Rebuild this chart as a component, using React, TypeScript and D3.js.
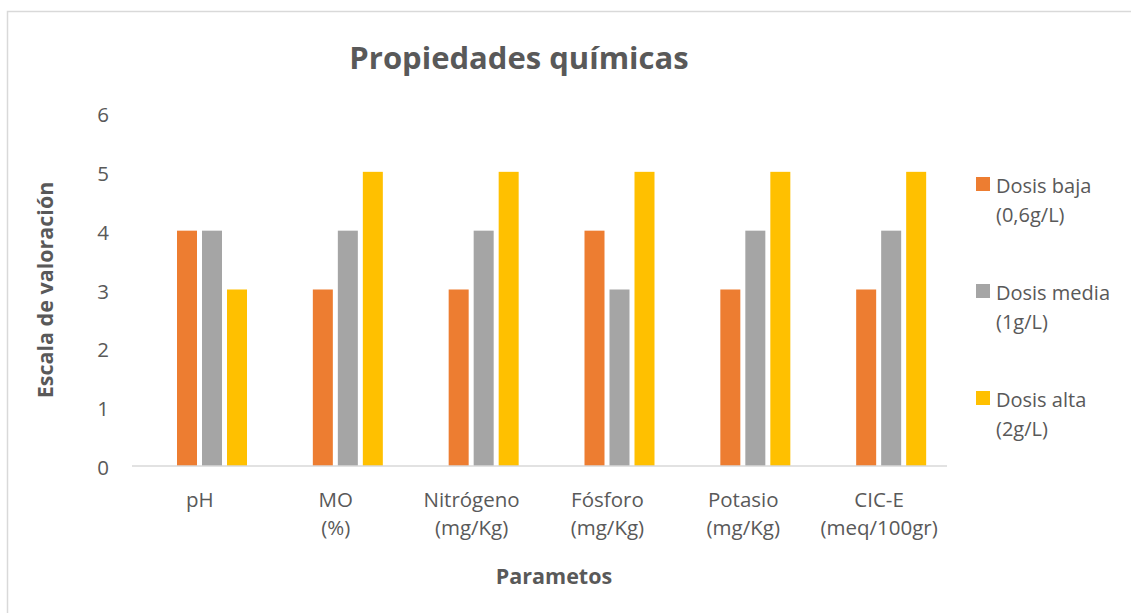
import React, { useEffect, useRef } from 'react';
import * as d3 from 'd3';

const categories = [
  ['pH'],
  ['MO', '(%)'],
  ['Nitrógeno', '(mg/Kg)'],
  ['Fósforo', '(mg/Kg)'],
  ['Potasio', '(mg/Kg)'],
  ['CIC-E', '(meq/100gr)'],
];
const seriesNames = [
  ['Dosis baja', '(0,6g/L)'],
  ['Dosis media', '(1g/L)'],
  ['Dosis alta', '(2g/L)'],
];
const baja = [4, 3, 3, 4, 3, 3];
const media = [4, 4, 4, 3, 4, 4];
const alta = [3, 5, 5, 5, 5, 5];
const yTicks = [0, 1, 2, 3, 4, 5, 6];
const colors = ['#ED7D31', '#A5A5A5', '#FFC000'];

const FONT = '"Open Sans", "Noto Sans", sans-serif';
const TEXT = '#595959';

const App = () => {
  const svgRef = useRef(null);

  useEffect(() => {
    const svg = d3.select(svgRef.current);
    svg.selectAll('*').remove();

    const left = 132, right = 947, top = 113, bottom = 466;
    const series = [baja, media, alta];
    const keys = categories.map(c => c.join(' '));

    const x = d3.scaleBand().domain(keys).range([left, right]);
    const y = d3.scaleLinear().domain([0, 6]).range([bottom, top]);
    // bars sit a little right of the band centre, like the original
    const inner = d3.scaleBand().domain(['0', '1', '2']).range([45, 115]).paddingInner(0.2).paddingOuter(0);

    // frame
    svg.append('rect').attr('x', 7.5).attr('y', 11.5).attr('width', 1140).attr('height', 620)
      .attr('fill', 'white').attr('stroke', '#D9D9D9').attr('stroke-width', 1.5);

    svg.append('text').attr('x', 519).attr('y', 69).attr('text-anchor', 'middle')
      .attr('font-family', FONT).attr('font-weight', 'bold').attr('font-size', 31).attr('fill', TEXT)
      .text('Propiedades químicas');

    // y ticks
    svg.append('g').selectAll('text').data(yTicks).enter().append('text')
      .attr('x', 109).attr('y', d => y(d) + 9).attr('text-anchor', 'end')
      .attr('font-family', FONT).attr('font-size', 20.5).attr('fill', TEXT)
      .text(d => d);

    // bars
    series.forEach((vals, si) => {
      svg.append('g').selectAll('rect').data(vals).enter().append('rect')
        .attr('x', (d, i) => x(keys[i]) + inner(String(si)))
        .attr('width', inner.bandwidth())
        .attr('y', d => y(d))
        .attr('height', d => y(0) - y(d))
        .attr('fill', colors[si]);
    });

    // x axis line
    svg.append('line').attr('x1', left).attr('x2', right).attr('y1', bottom).attr('y2', bottom)
      .attr('stroke', '#D9D9D9').attr('stroke-width', 1.5);

    // category labels
    const cat = svg.append('g').selectAll('text').data(categories).enter().append('text')
      .attr('text-anchor', 'middle').attr('font-family', FONT).attr('font-size', 20.5).attr('fill', TEXT);
    cat.each(function (d, i) {
      const t = d3.select(this);
      d.forEach((line, li) => {
        t.append('tspan').attr('x', x(keys[i]) + x.bandwidth() / 2).attr('y', 507 + li * 28).text(line);
      });
    });

    // axis titles
    svg.append('text').attr('x', 554).attr('y', 584).attr('text-anchor', 'middle')
      .attr('font-family', FONT).attr('font-weight', 'bold').attr('font-size', 21.5).attr('fill', TEXT)
      .text('Parametos');
    svg.append('text').attr('transform', 'translate(53,290) rotate(-90)').attr('text-anchor', 'middle')
      .attr('font-family', FONT).attr('font-weight', 'bold').attr('font-size', 21.5).attr('fill', TEXT)
      .text('Escala de valoración');

    // legend
    const lg = svg.append('g').selectAll('g').data(seriesNames).enter().append('g')
      .attr('transform', (d, i) => `translate(976, ${177 + i * 107})`);
    lg.append('rect').attr('width', 14).attr('height', 14).attr('fill', (d, i) => colors[i]);
    lg.append('text').attr('font-family', FONT).attr('font-size', 20).attr('fill', TEXT)
      .each(function (d) {
        const t = d3.select(this);
        d.forEach((line, li) => {
          t.append('tspan').attr('x', 20).attr('y', 16 + li * 29).text(line);
        });
      });
  }, []);

  return (
    <div style={{ position: 'fixed', left: 0, top: 0 }}>
      <svg ref={svgRef} width={1131} height={613} style={{ display: 'block' }} />
    </div>
  );
};

export default App;
